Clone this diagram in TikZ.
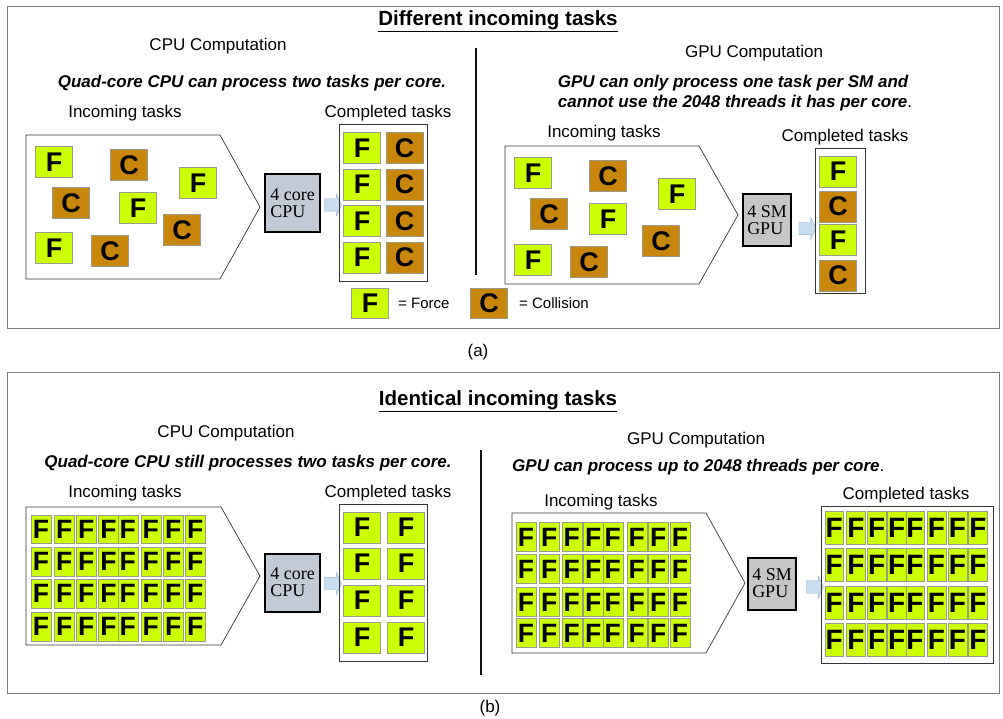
\documentclass[tikz,border=0pt]{standalone}
\usepackage{fontspec}
\setmainfont{Liberation Sans}
\newfontfamily\chipfont{Liberation Serif}
\usepackage{tikz}
\usetikzlibrary{shapes.arrows}
\definecolor{ink}{HTML}{111111}
\definecolor{framegray}{HTML}{7A7A7A}
\definecolor{forcegreen}{HTML}{CCFF00}
\definecolor{collbrown}{HTML}{C8860A}
\definecolor{taskedge}{HTML}{9A9A8A}
\definecolor{cpublue}{HTML}{C2CAD6}
\definecolor{gpugray}{HTML}{C6C6C6}
\definecolor{feedblue}{HTML}{C9DDF0}
\definecolor{feededge}{HTML}{8FAECB}

\begin{document}
\begin{tikzpicture}[
  x=1pt,y=-1pt,
  caption/.style={font=\fontsize{17}{20}\selectfont,inner sep=0pt},
  legendtext/.style={font=\fontsize{15}{18}\selectfont,inner sep=0pt,anchor=west},
  note/.style={font=\bfseries\itshape\fontsize{17}{20}\selectfont,align=left,inner sep=0pt},
  heading/.style={font=\bfseries\fontsize{20.5}{24}\selectfont,inner sep=0pt},
  ftask/.style={draw=taskedge,fill=forcegreen,minimum width=37pt,minimum height=31pt,inner sep=0pt,font=\bfseries\fontsize{27}{27}\selectfont},
  ctask/.style={ftask,fill=collbrown},
  fcell/.style={ftask,minimum width=20pt,minimum height=28.5pt,font=\bfseries\fontsize{26.5}{26.5}\selectfont},
  fcellwide/.style={ftask,minimum width=18.5pt,minimum height=33pt,font=\bfseries\fontsize{28}{28}\selectfont},
  incoming/.style={draw=ink!85,line width=0.7pt},
  donebox/.style={draw=ink!85,line width=0.8pt,inner sep=0pt},
  chip/.style={draw=black,line width=2pt,inner sep=0pt,align=left,font=\chipfont\fontsize{18}{17}\selectfont},
  cpuchip/.style={chip,fill=cpublue,minimum width=55pt,minimum height=58pt},
  gpuchip/.style={chip,fill=gpugray,minimum width=48pt,minimum height=52pt},
  feed/.style={single arrow,draw=feededge,fill=feedblue,single arrow head extend=5pt,single arrow tip angle=130,minimum height=17pt,inner xsep=0pt,inner ysep=6pt},
  split/.style={draw=ink,line width=1.3pt},
  frame/.style={draw=framegray,line width=0.9pt}
]
\useasboundingbox (0,0) rectangle (1003,719);

% ---------- (a) different incoming tasks ----------
\draw[frame] (7,6) rectangle (999,328);
\node[heading] (ttlA) at (498,21) {\underline{Different incoming tasks}};
\node[caption] (capA) at (478,352) {(a)};
\draw[split] (476,48) -- (476,275);

% CPU side
\node[caption] (cpuHeadA) at (218,46) {CPU Computation};
\node[note] (cpuNoteA) at (252,83) {Quad-core CPU can process two tasks per core.};
\node[caption] (cpuInA) at (125,113) {Incoming tasks};
\node[caption] (cpuOutA) at (388,113) {Completed tasks};
\draw[incoming] (26,135) -- (220,135) -- (260,207) -- (220,279) -- (26,279) -- cycle;
\node[ftask] (ca1) at (54,162) {F};
\node[ctask] (ca2) at (129,165) {C};
\node[ftask] (ca3) at (198,183) {F};
\node[ctask] (ca4) at (71,203) {C};
\node[ftask] (ca5) at (138,208) {F};
\node[ctask] (ca6) at (182,230) {C};
\node[ftask] (ca7) at (54,248) {F};
\node[ctask] (ca8) at (110,251) {C};
\node[cpuchip] (cpuA) at (292.5,203) {4 core\\CPU};
\node[feed] (feedA) at (331.5,205) {};
\node[donebox,minimum width=88pt,minimum height=157pt] (doneA) at (383,202.5) {};
\foreach \y [count=\r] in {148,184.5,221,257.5} {
  \node[ftask] (doneAf-\r) at (362,\y) {F};
  \node[ctask] (doneAc-\r) at (404.5,\y) {C};
}

% legend
\node[ftask,minimum height=30pt] (keyF) at (370,303) {F};
\node[legendtext] (keyFtxt) at (398,303) {= Force};
\node[ctask,minimum height=30pt] (keyC) at (489,303) {C};
\node[legendtext] (keyCtxt) at (519,303) {= Collision};

% GPU side
\node[caption] (gpuHeadA) at (754,53) {GPU Computation};
\node[note] (gpuNoteA) at (735,93) {GPU can only process one task per SM and\\cannot use the 2048 threads it has per core{\mdseries\upshape .}};
\node[caption] (gpuInA) at (604,133) {Incoming tasks};
\node[caption] (gpuOutA) at (845,137) {Completed tasks};
\draw[incoming] (505,146) -- (699,146) -- (738,215) -- (699,284) -- (505,284) -- cycle;
\node[ftask] (ga1) at (533,173) {F};
\node[ctask] (ga2) at (608,176) {C};
\node[ftask] (ga3) at (677,194) {F};
\node[ctask] (ga4) at (549,214) {C};
\node[ftask] (ga5) at (608,219) {F};
\node[ctask] (ga6) at (661,241) {C};
\node[ftask] (ga7) at (533,260) {F};
\node[ctask] (ga8) at (589,262) {C};
\node[gpuchip] (gpuA) at (767,220) {4 SM\\GPU};
\node[feed] (feedA2) at (806,228.5) {};
\node[donebox,minimum width=50pt,minimum height=145pt] (doneA2) at (840,220.5) {};
\node[ftask] (doneA2-1) at (838,171.5) {F};
\node[ctask] (doneA2-2) at (838,206.5) {C};
\node[ftask] (doneA2-3) at (838,240) {F};
\node[ctask] (doneA2-4) at (838,275.5) {C};

% ---------- (b) identical incoming tasks ----------
\draw[frame] (7,372) rectangle (999,693);
\node[heading] (ttlB) at (498,401) {\underline{Identical incoming tasks}};
\node[caption] (capB) at (490,708) {(b)};
\draw[split] (481,450) -- (481,675);

% CPU side
\node[caption] (cpuHeadB) at (226,433) {CPU Computation};
\node[note] (cpuNoteB) at (248,463) {Quad-core CPU still processes two tasks per core.};
\node[caption] (cpuInB) at (125,493) {Incoming tasks};
\node[caption] (cpuOutB) at (388,493) {Completed tasks};
\draw[incoming] (26,507) -- (221,507) -- (260,576) -- (221,645) -- (26,645) -- cycle;
\foreach \x [count=\c] in {41,64.2,86.3,108.5,127.8,150.8,173.3,195.2} {
  \foreach \y [count=\r] in {529,561.5,593.5,626.5} {
    \node[fcell] (cpuInB-\c-\r) at (\x,\y) {F};
  }
}
\node[cpuchip] (cpuB) at (292.5,582.5) {4 core\\CPU};
\node[feed] (feedB) at (331.5,583.5) {};
\node[donebox,minimum width=88pt,minimum height=157pt] (doneB) at (383,582.5) {};
\foreach \y [count=\r] in {527.5,563.5,600.5,637.5} {
  \node[ftask] (doneBl-\r) at (362,\y) {F};
  \node[ftask] (doneBr-\r) at (406,\y) {F};
}

% GPU side
\node[caption] (gpuHeadB) at (696,440) {GPU Computation};
\node[note,anchor=west] (gpuNoteB) at (512,467) {GPU can process up to 2048 threads per core{\mdseries\upshape .}};
\node[caption] (gpuInB) at (601,502) {Incoming tasks};
\node[caption] (gpuOutB) at (906,495) {Completed tasks};
\draw[incoming] (512,513) -- (706,513) -- (745,583) -- (706,653) -- (512,653) -- cycle;
\foreach \x [count=\c] in {526,549.3,571.7,593.3,612.7,636.7,658.3,680} {
  \foreach \y [count=\r] in {537,569,602,633} {
    \node[fcell,minimum height=29pt] (gpuInB-\c-\r) at (\x,\y) {F};
  }
}
\node[gpuchip] (gpuB) at (772,583.5) {4 SM\\GPU};
\node[feed] (feedB2) at (813.5,587) {};
\node[donebox,minimum width=172pt,minimum height=157pt] (doneB2) at (907,584.5) {};
\foreach \x [count=\c] in {834.2,855.8,876.7,896.7,915,936.5,957.5,977.8} {
  \foreach \y [count=\r] in {527.5,564.5,603,640} {
    \node[fcellwide] (doneB2-\c-\r) at (\x,\y) {F};
  }
}
\end{tikzpicture}
\end{document}
